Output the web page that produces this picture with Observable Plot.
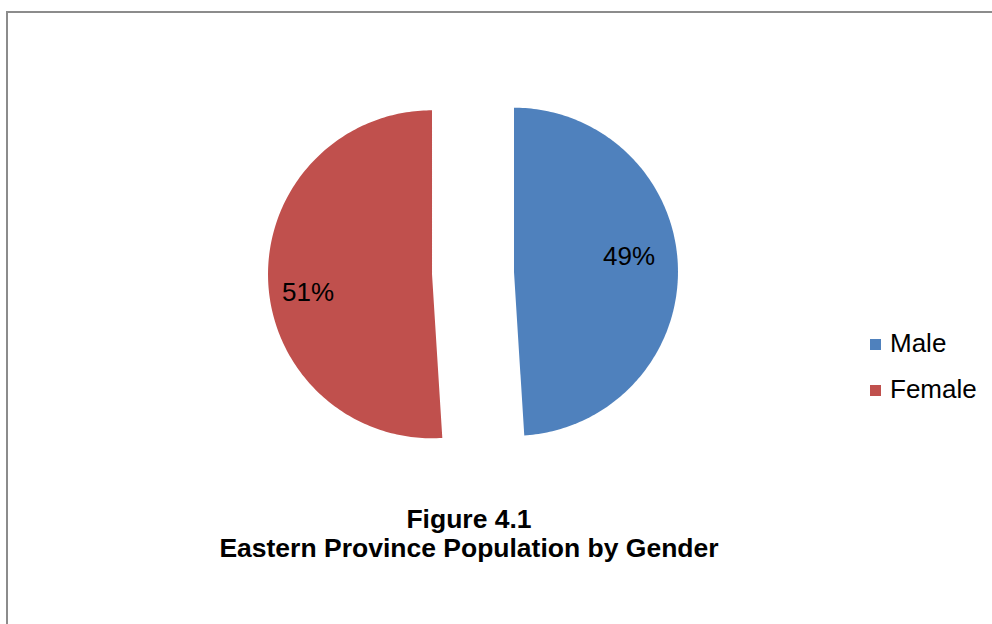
<!DOCTYPE html>
<html>
<head>
<meta charset="utf-8">
<script src="https://cdn.jsdelivr.net/npm/d3@7"></script>
<script src="https://cdn.jsdelivr.net/npm/@observablehq/plot@0.6"></script>
<style>
  html, body { margin: 0; padding: 0; background: #fff; overflow: hidden; }
  body { width: 992px; height: 624px; position: relative; font-family: "Liberation Sans", Arial, sans-serif; }
  #frame { position: absolute; left: 6px; top: 11px; width: 1100px; height: 700px; border-left: 2px solid #8c8c8c; border-top: 2px solid #8c8c8c; box-shadow: -1px -1px 0 #c8c8c8 inset; }
  #chart { position: absolute; left: 0; top: 0; }
  #legend { position: absolute; left: 870px; top: 320px; font-size: 26px; color: #000; }
  .item { display: flex; align-items: center; height: 46px; }
  .sw { width: 11px; height: 11px; margin-right: 9px; margin-top: 2px; }
  #caption { position: absolute; left: 0; width: 938px; top: 505px; text-align: center; font-weight: bold; font-size: 26.5px; line-height: 29px; color: #000; }
</style>
</head>
<body>
<div id="frame"></div>
<div id="chart"></div>
<div id="legend"></div>
<div id="caption"></div>
<script>
const categories = ["Male", "Female"];
const values = [49, 51];
const labels = ["49%", "51%"];
const colors = ["#4F81BD", "#C0504D"];
const titleLines = ["Figure 4.1", "Eastern Province Population by Gender"];

const data = categories.map((c, i) => ({category: c, value: values[i], label: labels[i]}));
const arcs = d3.pie().sort(null).value(d => d.value)(data);

const explode = 0.25;
const outline = [];
const labelPts = [];
arcs.forEach(a => {
  const mid = (a.startAngle + a.endAngle) / 2;
  const ox = explode * Math.sin(mid), oy = explode * Math.cos(mid);
  outline.push({category: a.data.category, x: ox, y: oy});
  const steps = Math.max(2, Math.ceil((a.endAngle - a.startAngle) / (Math.PI / 180)));
  for (let k = 0; k <= steps; k++) {
    const t = a.startAngle + (a.endAngle - a.startAngle) * k / steps;
    outline.push({category: a.data.category, x: ox + Math.sin(t), y: oy + Math.cos(t)});
  }
  labelPts.push({category: a.data.category, label: a.data.label, x: ox + 0.72 * Math.sin(mid), y: oy + 0.72 * Math.cos(mid)});
});

const cx = 472.5, cy = 272.5, r = 164;
const font = "Liberation Sans, Arial, sans-serif";
const chart = Plot.plot({
  width: 992,
  height: 500,
  margin: 0,
  x: {domain: [-1, 1], range: [cx - r, cx + r], axis: null},
  y: {domain: [-1, 1], range: [cy + r, cy - r], axis: null},
  color: {domain: categories, range: colors},
  style: {background: "transparent", overflow: "visible"},
  marks: [
    Plot.line(outline, {x: "x", y: "y", z: "category", fill: "category", stroke: null, curve: "linear-closed"}),
    Plot.text(labelPts.filter(d => d.category === "Male"), {x: "x", y: "y", text: "label", fontSize: 26, fill: "#000", dx: -3, dy: -11, fontFamily: font}),
    Plot.text(labelPts.filter(d => d.category === "Female"), {x: "x", y: "y", text: "label", fontSize: 26, fill: "#000", dx: -6, dy: 15, fontFamily: font})
  ]
});
document.getElementById("chart").appendChild(chart);

const legend = document.getElementById("legend");
categories.forEach((c, i) => {
  const item = document.createElement("div");
  item.className = "item";
  const sw = document.createElement("div");
  sw.className = "sw";
  sw.style.background = colors[i];
  const t = document.createElement("span");
  t.textContent = c;
  item.appendChild(sw); item.appendChild(t);
  legend.appendChild(item);
});
const cap = document.getElementById("caption");
titleLines.forEach(s => { const d = document.createElement("div"); d.textContent = s; cap.appendChild(d); });
</script>
</body>
</html>
